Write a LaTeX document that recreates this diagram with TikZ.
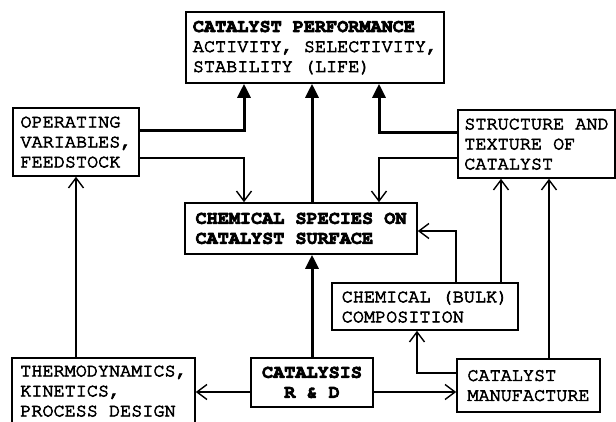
\documentclass[tikz,border=0pt]{standalone}
\usepackage[T1]{fontenc}
\usepackage{tikz}
\usetikzlibrary{calc,arrows.meta,positioning}
% heavier strokes for the typewriter text
\newcommand{\heavytext}{\special{pdf:literal direct 0.7 w 2 Tr}}
\tikzset{
  box/.style={draw,line width=1.6pt,rectangle,inner sep=0pt,
    font=\fontfamily{pcr}\fontsize{18.5}{20}\selectfont\heavytext,align=left},
  ar/.style={-{Straight Barb[length=10pt,width=15pt,line width=1.4pt]},line width=1.4pt},
  thk/.style={-{Triangle[length=14pt,width=13pt]},line width=3pt}
}
\begin{document}
\begin{tikzpicture}[x=1pt,y=-1pt]
\clip (0,0) rectangle (616,422);
\node[box,minimum width=258pt,minimum height=71pt] (perf) at (315,47.5)
  {\textbf{CATALYST PERFORMANCE}\\ACTIVITY, SELECTIVITY,\\STABILITY (LIFE)};
\node[box,minimum width=126pt,minimum height=68pt] (oper) at (76,142)
  {OPERATING\\VARIABLES,\\FEEDSTOCK};
\node[box,minimum width=157pt,minimum height=68pt] (struct) at (536.5,144)
  {STRUCTURE AND\\TEXTURE OF\\CATALYST};
\node[box,minimum width=232pt,minimum height=51pt] (species) at (301,228.5)
  {\textbf{CHEMICAL SPECIES ON}\\\textbf{CATALYST SURFACE}};
\node[box,minimum width=186pt,minimum height=47pt] (bulk) at (425,306.5)
  {CHEMICAL (BULK)\\COMPOSITION};
\node[box,minimum width=183pt,minimum height=66pt] (thermo) at (103.5,391)
  {THERMODYNAMICS,\\KINETICS,\\PROCESS DESIGN};
\node[box,align=center,minimum width=122pt,minimum height=49pt] (rnd) at (312,382.5)
  {\textbf{CATALYSIS}\\\textbf{R \& D}};
\node[box,minimum width=143pt,minimum height=53pt] (manuf) at (528.5,385.5)
  {CATALYST\\MANUFACTURE};
% into catalyst performance
\draw[thk] ([yshift=11pt]oper.east) -| ([xshift=-71pt]perf.south);
\draw[thk] (rnd.north |- species.north) -- (rnd.north |- perf.south);
\draw[thk] ([yshift=11pt]struct.west) -| ([xshift=64pt]perf.south);
% into chemical species
\draw[ar] ([yshift=-16pt]oper.east) -| ([xshift=-71pt]perf.south |- species.north);
\draw[ar] ([yshift=-14pt]struct.west) -| ([xshift=64pt]perf.south |- species.north);
\draw[thk] (rnd.north) -- (rnd.north |- species.south);
\draw[ar] ([xshift=31pt]bulk.north) |- ([yshift=-2.5pt]species.east);
% lower part
\draw[ar] (oper.south |- thermo.north) -- (oper.south);
\draw[ar] ([yshift=-9.5pt]rnd.west) -- ([yshift=-9.5pt]rnd.west -| thermo.east);
\draw[ar] ([yshift=-9.5pt]rnd.east) -- ([yshift=-9.5pt]rnd.east -| manuf.west);
\draw[ar] ([yshift=12.5pt]manuf.west) -| ([xshift=-8pt]bulk.south);
\draw[ar] ([xshift=76pt]bulk.north) -- ([xshift=76pt]bulk.north |- struct.south);
\draw[ar] ([xshift=20.5pt]manuf.north) -- ([xshift=20.5pt]manuf.north |- struct.south);
\end{tikzpicture}
\end{document}
